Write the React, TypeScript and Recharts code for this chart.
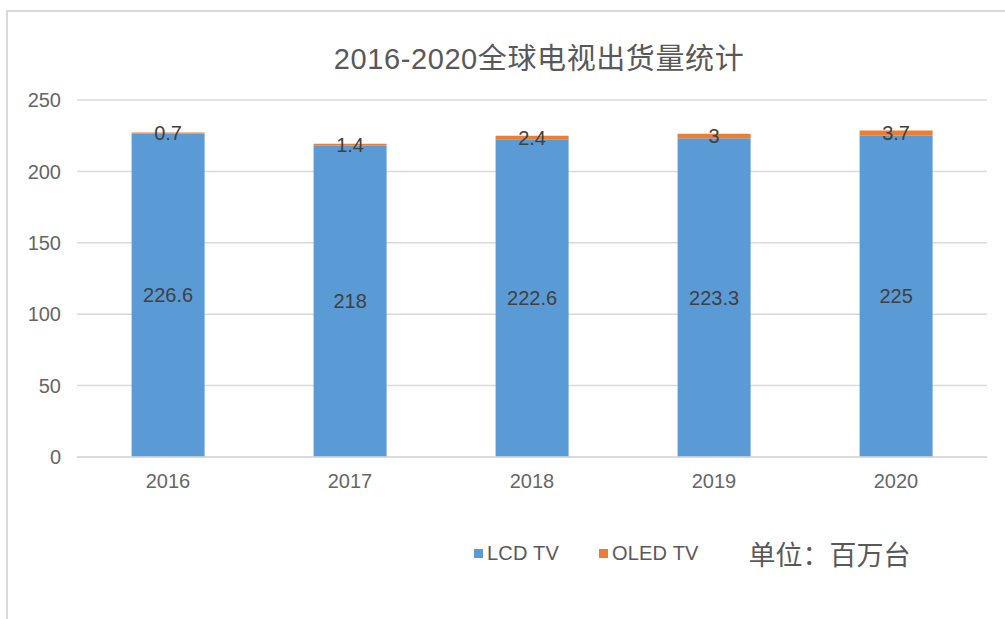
import React from "react";
import { BarChart, Bar, XAxis, YAxis, CartesianGrid, LabelList } from "recharts";

const categories = ["2016", "2017", "2018", "2019", "2020"];
const lcdValues = [226.6, 218, 222.6, 223.3, 225];
const oledValues = [0.7, 1.4, 2.4, 3, 3.7];
const yTicks = [0, 50, 100, 150, 200, 250];
const seriesNames = ["LCD TV", "OLED TV"];
const seriesColors = ["#5B9BD5", "#ED7D31"];
const titleText = "2016-2020全球电视出货量统计";
const unitText = "单位：百万台";

const data = categories.map((c, i) => ({ year: c, lcd: lcdValues[i], oled: oledValues[i] }));

const FONT = '"Liberation Sans", "Noto Sans CJK SC", sans-serif';

export default function App() {
  return (
    <div style={{ position: "absolute", left: 0, top: 0, width: 1005, height: 619, background: "#fff", fontFamily: FONT, overflow: "hidden" }}>
      <div style={{ position: "absolute", left: 6, top: 10, width: 1000, height: 610, borderTop: "2px solid #d9d9d9", borderLeft: "2px solid #d9d9d9", boxSizing: "border-box" }} />
      <div style={{ position: "absolute", left: 539, top: 44, transform: "translateX(-50%)", fontSize: 29, lineHeight: "30px", letterSpacing: 0.6, color: "#595959", whiteSpace: "nowrap", fontFamily: FONT }}>
        {titleText}
      </div>
      <div style={{ position: "absolute", left: 0, top: 0 }}>
        <BarChart width={1005} height={619} data={data} margin={{ top: 100, right: 18, left: 0, bottom: 132 }} barCategoryGap="30%">
          <CartesianGrid vertical={false} stroke="#d9d9d9" strokeWidth={1.5} />
          <XAxis dataKey="year" axisLine={{ stroke: "#d9d9d9", strokeWidth: 1.5 }} tickLine={false} tickMargin={11} height={30} tick={{ fill: "#666666", fontSize: 20, fontFamily: FONT }} />
          <YAxis domain={[0, 250]} ticks={yTicks} width={77} axisLine={false} tickLine={false} tickMargin={10} tick={{ fill: "#666666", fontSize: 20, fontFamily: FONT }} />
          <Bar dataKey="lcd" stackId="a" fill={seriesColors[0]} isAnimationActive={false}>
            <LabelList dataKey="lcd" position="center" fill="#404040" fontSize={20} fontFamily={FONT} />
          </Bar>
          <Bar dataKey="oled" stackId="a" fill={seriesColors[1]} isAnimationActive={false}>
            <LabelList dataKey="oled" position="center" fill="#404040" fontSize={20} fontFamily={FONT} />
          </Bar>
        </BarChart>
      </div>
      <div style={{ position: "absolute", left: 474, top: 536, height: 34, display: "flex", alignItems: "center", color: "#595959", whiteSpace: "nowrap" }}>
        {seriesNames.map((n, i) => (
          <div key={n} style={{ display: "flex", alignItems: "center", marginRight: i === 0 ? 40 : 50 }}>
            <span style={{ display: "inline-block", width: 9, height: 9, background: seriesColors[i], marginRight: 4 }} />
            <span style={{ fontSize: 20, letterSpacing: 0.2 }}>{n}</span>
          </div>
        ))}
        <span style={{ fontSize: 27, letterSpacing: 0, color: "#595959" }}>{unitText}</span>
      </div>
    </div>
  );
}
